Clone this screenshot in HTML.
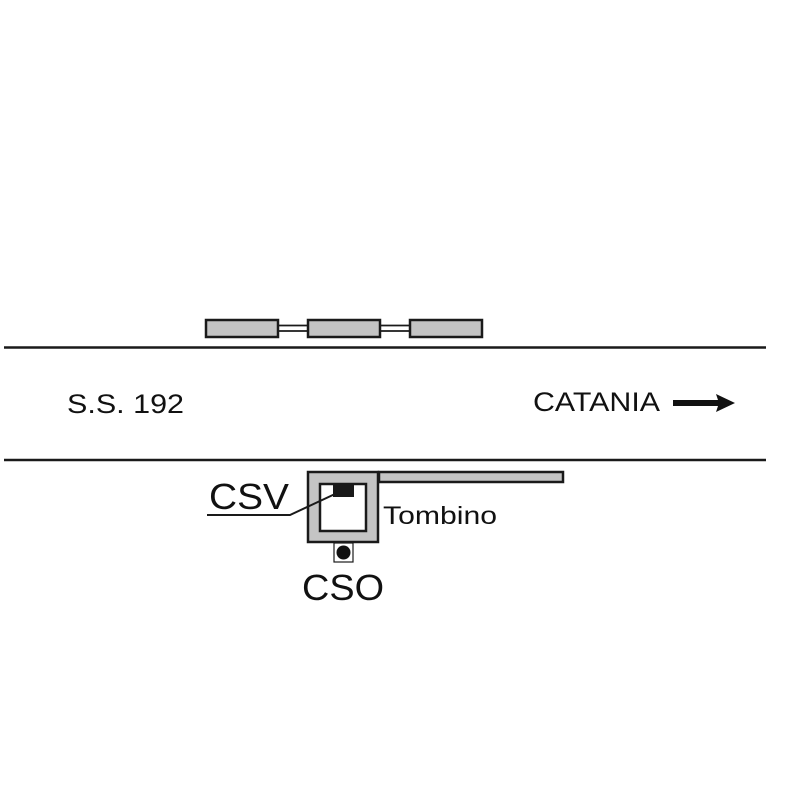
<!DOCTYPE html>
<html><head><meta charset="utf-8"><style>html,body{margin:0;padding:0;background:#fff}svg{display:block}</style></head>
<body>
<svg width="788" height="788" viewBox="0 0 788 788" xmlns="http://www.w3.org/2000/svg" font-family="Liberation Sans, Arial, sans-serif">
<rect width="788" height="788" fill="#fff"/>
<g fill="#c4c4c4" stroke="#1a1a1a" stroke-width="2.5">
<rect x="206" y="320" width="72" height="17"/>
<rect x="308" y="320" width="72" height="17"/>
<rect x="410" y="320" width="72" height="17"/>
</g>
<g stroke="#1a1a1a" stroke-width="1.8">
<line x1="278" y1="325.5" x2="308" y2="325.5"/><line x1="278" y1="331" x2="308" y2="331"/>
<line x1="380" y1="325.5" x2="410" y2="325.5"/><line x1="380" y1="331" x2="410" y2="331"/>
</g>
<line x1="4" y1="347.5" x2="766" y2="347.5" stroke="#1a1a1a" stroke-width="2.5"/>
<line x1="4" y1="460" x2="766" y2="460" stroke="#1a1a1a" stroke-width="2.5"/>
<text x="67" y="413" font-size="27" fill="#111" textLength="117" lengthAdjust="spacingAndGlyphs">S.S. 192</text>
<text x="533" y="411" font-size="27" fill="#111" textLength="127" lengthAdjust="spacingAndGlyphs">CATANIA</text>
<polygon points="673,400 718,400 716,394 735,403 716,412 718,406 673,406" fill="#111"/>
<rect x="379" y="472" width="184" height="10" fill="#c4c4c4" stroke="#1a1a1a" stroke-width="2.5"/>
<rect x="308" y="472" width="70" height="70" fill="#c4c4c4" stroke="#1a1a1a" stroke-width="2.5"/>
<rect x="320" y="484" width="46" height="47" fill="#fff" stroke="#1a1a1a" stroke-width="2.5"/>
<rect x="333" y="485" width="21" height="12" fill="#1a1a1a"/>
<rect x="334" y="543" width="19" height="19" fill="#fff" stroke="#1a1a1a" stroke-width="1.2"/>
<circle cx="343.5" cy="552.5" r="7" fill="#111"/>
<polyline points="207,515 290,515 335,494" fill="none" stroke="#1a1a1a" stroke-width="2"/>
<text x="209" y="509" font-size="36" fill="#111" textLength="80" lengthAdjust="spacingAndGlyphs">CSV</text>
<text x="383" y="524" font-size="25" fill="#111" textLength="114" lengthAdjust="spacingAndGlyphs">Tombino</text>
<text x="302" y="600" font-size="36" fill="#111" textLength="82" lengthAdjust="spacingAndGlyphs">CSO</text>
</svg>
</body></html>
